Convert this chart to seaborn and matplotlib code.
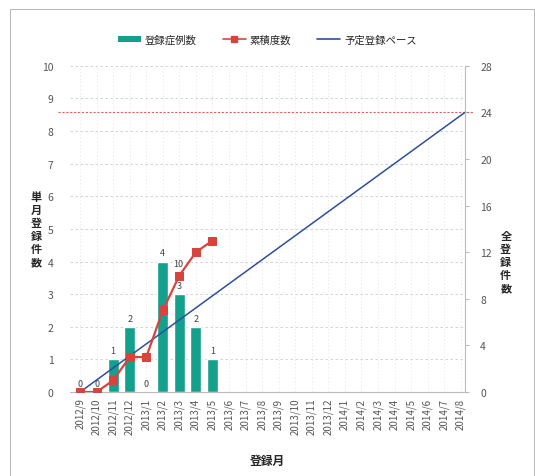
import numpy as np
import pandas as pd
import matplotlib.pyplot as plt
import seaborn as sns
from matplotlib.patches import Rectangle, Patch

sns.set_style('white')
plt.rcParams['font.family'] = ['Noto Sans CJK JP', 'DejaVu Sans']

months = ['2012/9', '2012/10', '2012/11', '2012/12', '2013/1', '2013/2', '2013/3',
          '2013/4', '2013/5', '2013/6', '2013/7', '2013/8', '2013/9', '2013/10',
          '2013/11', '2013/12', '2014/1', '2014/2', '2014/3', '2014/4', '2014/5',
          '2014/6', '2014/7', '2014/8']
monthly = [0, 0, 1, 2, 0, 4, 3, 2, 1]
cumulative = [0, 0, 1, 3, 3, 7, 10, 12, 13]
target_total = 24

bar_color = '#13a08c'
cum_color = '#d6453d'
plan_color = '#2e4f9e'

df = pd.DataFrame({'month': months})
df['count'] = pd.Series(monthly, dtype=float).reindex(range(len(months))).values

fig = plt.figure(figsize=(5.35, 4.77), dpi=100)
ax = fig.add_axes([0.131, 0.176, 0.738, 0.684])
sns.barplot(data=df, x='month', y='count', order=months, color=bar_color,
            saturation=1, width=0.66, ax=ax, zorder=2)
for c in ax.containers:
    ax.bar_label(c, fmt='%d', fontsize=6.5, color='#444444', padding=3)

ax.set_ylim(0, 10)
ax.set_yticks(range(0, 11))
ax.set_xlim(-0.6, len(months) - 0.75)
ax.grid(axis='y', color='#cccccc', linestyle=(0, (3, 3)), linewidth=0.6)
ax.grid(axis='x', color='#e4e4e4', linestyle=(0, (2, 3)), linewidth=0.5)
ax.set_axisbelow(True)
ax.tick_params(axis='x', labelrotation=90, labelsize=7, colors='#555555', length=2, pad=2)
ax.tick_params(axis='y', labelsize=7.5, colors='#555555', length=0, pad=12)
for s in ['left', 'top', 'right']:
    ax.spines[s].set_visible(False)
ax.spines['bottom'].set_color('#bbbbbb')
ax.set_xlabel('登録月', fontsize=8.5, fontweight='bold', labelpad=14)
ax.set_ylabel('\n'.join('単月登録件数'), rotation=0, fontsize=8, fontweight='bold',
              va='center', labelpad=4, linespacing=1.0)

ax2 = ax.twinx()
pos = np.arange(len(cumulative))
sns.lineplot(x=pos, y=cumulative, ax=ax2, color=cum_color, marker='s',
             markersize=6, markeredgecolor=cum_color, linewidth=1.6, zorder=4)
plan_x = [0, len(months) - 0.75]
plan_y = [0, target_total]
sns.lineplot(x=plan_x, y=plan_y, ax=ax2, color=plan_color, linewidth=1.1, zorder=3)
ax2.axhline(target_total, color='#e06060', linestyle=(0, (2, 1.5)), linewidth=0.8,
            xmin=-0.03, xmax=1.02, clip_on=False)
ax2.annotate(str(cumulative[6]), (pos[6], cumulative[6]), xytext=(-1, 7),
             textcoords='offset points', ha='center', fontsize=6.5, color='#444444')
ax2.set_ylim(0, 28)
ax2.set_yticks(range(0, 29, 4))
ax2.tick_params(axis='y', labelsize=7.5, colors='#555555', length=3, pad=8)
ax2.tick_params(axis='y', color='#bbbbbb')
for s in ['left', 'top', 'bottom']:
    ax2.spines[s].set_visible(False)
ax2.spines['right'].set_color('#bbbbbb')
ax2.set_ylabel('\n'.join('全登録件数'), rotation=0, fontsize=8, fontweight='bold',
               va='center', labelpad=10, linespacing=1.0)
ax2.yaxis.set_label_position('right')

handles = [
    Patch(facecolor=bar_color, edgecolor='none'),
    plt.Line2D([], [], color=cum_color, marker='s', markersize=5, linewidth=1.2),
    plt.Line2D([], [], color=plan_color, linewidth=1.2),
]
fig.legend(handles, ['登録症例数', '累積度数', '予定登録ペース'], loc='center',
           bbox_to_anchor=(0.5, 0.915), ncol=3, frameon=False, fontsize=7.5,
           handlelength=2.2, handleheight=0.5, columnspacing=2.5, handletextpad=0.4)

fig.patches.append(Rectangle((0.019, 0.0), 0.98, 0.979, transform=fig.transFigure,
                             fill=False, edgecolor='#aaaaaa', linewidth=0.6))

fig.savefig('out.png', dpi=100)
plt.close(fig)
